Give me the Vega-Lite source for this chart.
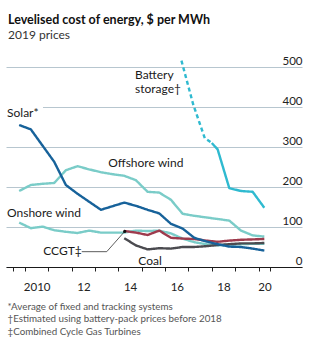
{
  "$schema": "https://vega.github.io/schema/vega-lite/v6.json",
  "width": 296,
  "height": 200,
  "autosize": {"type": "none"},
  "padding": {"left": 6, "right": 21, "top": 67, "bottom": 78},
  "background": "white",
  "title": {
    "text": "Levelised cost of energy, $ per MWh",
    "subtitle": "2019 prices",
    "anchor": "start",
    "frame": "group",
    "font": "Lato",
    "fontSize": 12.5,
    "fontWeight": "bold",
    "color": "#111111",
    "subtitleFont": "Lato",
    "subtitleFontSize": 12,
    "subtitleColor": "#333333",
    "subtitlePadding": 4,
    "offset": 14,
    "dx": 2
  },
  "config": {"view": {"stroke": null}, "font": "Lato"},
  "datasets": {
    "lines": [
      {"series": "Onshore wind", "year": 2009.75, "cost": 111},
      {"series": "Onshore wind", "year": 2010.25, "cost": 97},
      {"series": "Onshore wind", "year": 2010.75, "cost": 101},
      {"series": "Onshore wind", "year": 2011.25, "cost": 92},
      {"series": "Onshore wind", "year": 2011.75, "cost": 88},
      {"series": "Onshore wind", "year": 2012.25, "cost": 85},
      {"series": "Onshore wind", "year": 2012.75, "cost": 91},
      {"series": "Onshore wind", "year": 2013.25, "cost": 86},
      {"series": "Onshore wind", "year": 2013.75, "cost": 86},
      {"series": "Onshore wind", "year": 2014.25, "cost": 86},
      {"series": "Onshore wind", "year": 2014.75, "cost": 91},
      {"series": "Onshore wind", "year": 2015.25, "cost": 90},
      {"series": "Onshore wind", "year": 2015.75, "cost": 91},
      {"series": "Onshore wind", "year": 2016.25, "cost": 84},
      {"series": "Onshore wind", "year": 2016.75, "cost": 71},
      {"series": "Onshore wind", "year": 2017.25, "cost": 62},
      {"series": "Onshore wind", "year": 2017.75, "cost": 57},
      {"series": "Onshore wind", "year": 2018.25, "cost": 54},
      {"series": "Onshore wind", "year": 2018.75, "cost": 56},
      {"series": "Onshore wind", "year": 2019.25, "cost": 57},
      {"series": "Onshore wind", "year": 2019.75, "cost": 58},
      {"series": "Onshore wind", "year": 2020.25, "cost": 58},
      {"series": "Offshore wind", "year": 2009.75, "cost": 190},
      {"series": "Offshore wind", "year": 2010.25, "cost": 205},
      {"series": "Offshore wind", "year": 2010.75, "cost": 208},
      {"series": "Offshore wind", "year": 2011.25, "cost": 210},
      {"series": "Offshore wind", "year": 2011.75, "cost": 242},
      {"series": "Offshore wind", "year": 2012.25, "cost": 252},
      {"series": "Offshore wind", "year": 2012.75, "cost": 244},
      {"series": "Offshore wind", "year": 2013.25, "cost": 237},
      {"series": "Offshore wind", "year": 2013.75, "cost": 232},
      {"series": "Offshore wind", "year": 2014.25, "cost": 228},
      {"series": "Offshore wind", "year": 2014.75, "cost": 217},
      {"series": "Offshore wind", "year": 2015.25, "cost": 188},
      {"series": "Offshore wind", "year": 2015.75, "cost": 186},
      {"series": "Offshore wind", "year": 2016.25, "cost": 168},
      {"series": "Offshore wind", "year": 2016.75, "cost": 133},
      {"series": "Offshore wind", "year": 2017.25, "cost": 128},
      {"series": "Offshore wind", "year": 2017.75, "cost": 124},
      {"series": "Offshore wind", "year": 2018.25, "cost": 120},
      {"series": "Offshore wind", "year": 2018.75, "cost": 116},
      {"series": "Offshore wind", "year": 2019.25, "cost": 91},
      {"series": "Offshore wind", "year": 2019.75, "cost": 79},
      {"series": "Offshore wind", "year": 2020.25, "cost": 76},
      {"series": "Coal", "year": 2014.25, "cost": 72},
      {"series": "Coal", "year": 2014.75, "cost": 54},
      {"series": "Coal", "year": 2015.25, "cost": 44},
      {"series": "Coal", "year": 2015.75, "cost": 47},
      {"series": "Coal", "year": 2016.25, "cost": 46},
      {"series": "Coal", "year": 2016.75, "cost": 50},
      {"series": "Coal", "year": 2017.25, "cost": 50},
      {"series": "Coal", "year": 2017.75, "cost": 52},
      {"series": "Coal", "year": 2018.25, "cost": 55},
      {"series": "Coal", "year": 2018.75, "cost": 57},
      {"series": "Coal", "year": 2019.25, "cost": 59},
      {"series": "Coal", "year": 2019.75, "cost": 59},
      {"series": "Coal", "year": 2020.25, "cost": 60},
      {"series": "CCGT", "year": 2014.25, "cost": 90},
      {"series": "CCGT", "year": 2014.75, "cost": 86},
      {"series": "CCGT", "year": 2015.25, "cost": 80},
      {"series": "CCGT", "year": 2015.75, "cost": 91},
      {"series": "CCGT", "year": 2016.25, "cost": 73},
      {"series": "CCGT", "year": 2016.75, "cost": 71},
      {"series": "CCGT", "year": 2017.25, "cost": 70},
      {"series": "CCGT", "year": 2017.75, "cost": 66},
      {"series": "CCGT", "year": 2018.25, "cost": 63},
      {"series": "CCGT", "year": 2018.75, "cost": 66},
      {"series": "CCGT", "year": 2019.25, "cost": 68},
      {"series": "CCGT", "year": 2019.75, "cost": 69},
      {"series": "CCGT", "year": 2020.25, "cost": 70},
      {"series": "Solar", "year": 2009.75, "cost": 355},
      {"series": "Solar", "year": 2010.25, "cost": 344},
      {"series": "Solar", "year": 2011.25, "cost": 263},
      {"series": "Solar", "year": 2011.75, "cost": 205},
      {"series": "Solar", "year": 2012.25, "cost": 183},
      {"series": "Solar", "year": 2013.25, "cost": 143},
      {"series": "Solar", "year": 2014.25, "cost": 161},
      {"series": "Solar", "year": 2014.75, "cost": 153},
      {"series": "Solar", "year": 2015.25, "cost": 143},
      {"series": "Solar", "year": 2015.75, "cost": 134},
      {"series": "Solar", "year": 2016.25, "cost": 108},
      {"series": "Solar", "year": 2016.75, "cost": 96},
      {"series": "Solar", "year": 2017.25, "cost": 73},
      {"series": "Solar", "year": 2017.75, "cost": 64},
      {"series": "Solar", "year": 2018.25, "cost": 57},
      {"series": "Solar", "year": 2018.75, "cost": 51},
      {"series": "Solar", "year": 2019.25, "cost": 50},
      {"series": "Solar", "year": 2019.75, "cost": 46},
      {"series": "Solar", "year": 2020.25, "cost": 41},
      {"series": "Battery storage (estimated)", "year": 2016.7, "cost": 516},
      {"series": "Battery storage (estimated)", "year": 2017.2, "cost": 407},
      {"series": "Battery storage (estimated)", "year": 2017.7, "cost": 322},
      {"series": "Battery storage (estimated)", "year": 2018.0, "cost": 310},
      {"series": "Battery storage", "year": 2018.0, "cost": 310},
      {"series": "Battery storage", "year": 2018.25, "cost": 294},
      {"series": "Battery storage", "year": 2018.75, "cost": 197},
      {"series": "Battery storage", "year": 2019.25, "cost": 190},
      {"series": "Battery storage", "year": 2019.75, "cost": 188},
      {"series": "Battery storage", "year": 2020.25, "cost": 148}
    ],
    "labels": [
      {"label": "Solar*", "year": 2009.23, "cost": 376},
      {"label": "Battery", "year": 2014.71, "cost": 469},
      {"label": "storage†", "year": 2014.71, "cost": 436},
      {"label": "Offshore wind", "year": 2013.56, "cost": 251},
      {"label": "Onshore wind", "year": 2009.23, "cost": 126},
      {"label": "CCGT‡", "year": 2010.78, "cost": 30},
      {"label": "Coal", "year": 2014.85, "cost": 5}
    ],
    "leader": [
      {"year": 2012.43, "cost": 38.3, "step": 1},
      {"year": 2013.5, "cost": 38.3, "step": 2},
      {"year": 2014.27, "cost": 89, "step": 3}
    ],
    "mask": [
      {"x0": 2009.19, "x1": 2010.77, "y0": 395, "y1": 405}
    ]
  },
  "layer": [
    {
      "data": {"name": "lines"},
      "mark": {"type": "line", "strokeWidth": 2.4, "strokeJoin": "round", "strokeCap": "butt"},
      "encoding": {
        "x": {"field": "year", "type": "quantitative", "scale": {"domain": [2009.186, 2021.863], "nice": false, "zero": false},
          "axis": {
            "values": [2009.5, 2010, 2011, 2012, 2013, 2014, 2015, 2016, 2017, 2018, 2019, 2020, 2020.5],
            "tickCount": 50,
            "labelExpr": "datum.value == 2010 ? '2010' : ((datum.value % 2 == 0 && datum.value > 2010) ? substring(toString(datum.value), 2) : '')",
            "labelOffset": {"condition": {"test": "datum.value >= 2020", "value": 6}, "value": 11.7},
            "labelFlush": false,
            "labelOverlap": false,
            "labelBound": false,
            "labelFont": "Lato",
            "labelFontSize": 11.5,
            "labelColor": "#222222",
            "labelPadding": 10,
            "grid": false,
            "ticks": true,
            "tickSize": 4,
            "tickColor": "#222222",
            "tickWidth": 1,
            "domain": true,
            "domainColor": "#1a1a1a",
            "domainWidth": 1.2,
            "title": ["*Average of fixed and tracking systems", "†Estimated using battery-pack prices before 2018", "‡Combined Cycle Gas Turbines"],
            "titleFont": "Lato",
            "titleFontSize": 9.8,
            "titleFontWeight": "normal",
            "titleColor": "#555555",
            "titleAlign": "left",
            "titleBaseline": "top",
            "titleAngle": 0,
            "titleX": 1,
            "titleY": 34,
            "titleLineHeight": 12.5
          }
        },
        "y": {"field": "cost", "type": "quantitative", "scale": {"domain": [0, 500], "nice": false},
          "axis": {
            "orient": "right",
            "values": [0, 100, 200, 300, 400, 500],
            "tickCount": 50,
            "grid": true,
            "gridColor": "#b7c6cf",
            "gridWidth": 1,
            "domain": false,
            "ticks": false,
            "tickSize": 0,
            "labelAlign": "right",
            "labelBaseline": "alphabetic",
            "labelOffset": -3,
            "labelPadding": 0,
            "labelOverlap": false,
            "labelBound": false,
            "labelFlush": false,
            "labelFont": "Lato",
            "labelFontSize": 11.5,
            "labelColor": "#222222",
            "title": null
          }
        },
        "color": {"field": "series", "type": "nominal", "legend": null,
          "scale": {"domain": ["Onshore wind", "Offshore wind", "Coal", "CCGT", "Solar", "Battery storage (estimated)", "Battery storage"],
                    "range": ["#7accc8", "#7accc8", "#4b4b50", "#9e3b4d", "#17629a", "#2fbad0", "#2fbad0"]}},
        "strokeDash": {"field": "series", "type": "nominal", "legend": null,
          "scale": {"domain": ["Onshore wind", "Offshore wind", "Coal", "CCGT", "Solar", "Battery storage (estimated)", "Battery storage"],
                    "range": [[1, 0], [1, 0], [1, 0], [1, 0], [1, 0], [4, 3], [1, 0]]}},
        "order": {"field": "year", "type": "quantitative"}
      }
    },
    {
      "data": {"name": "mask"},
      "mark": {"type": "rect", "color": "white"},
      "encoding": {
        "x": {"field": "x0", "type": "quantitative"},
        "x2": {"field": "x1"},
        "y": {"field": "y0", "type": "quantitative"},
        "y2": {"field": "y1"}
      }
    },
    {
      "data": {"name": "leader"},
      "mark": {"type": "line", "color": "#333333", "strokeWidth": 0.8},
      "encoding": {
        "x": {"field": "year", "type": "quantitative"},
        "y": {"field": "cost", "type": "quantitative"},
        "order": {"field": "step", "type": "quantitative"}
      }
    },
    {
      "data": {"name": "leader"},
      "transform": [{"filter": "datum.step == 3"}],
      "mark": {"type": "circle", "color": "#111111", "size": 10, "opacity": 1},
      "encoding": {
        "x": {"field": "year", "type": "quantitative"},
        "y": {"field": "cost", "type": "quantitative"}
      }
    },
    {
      "data": {"name": "labels"},
      "mark": {"type": "text", "align": "left", "baseline": "alphabetic", "font": "Lato", "fontSize": 12, "color": "#1a1a1a"},
      "encoding": {
        "x": {"field": "year", "type": "quantitative"},
        "y": {"field": "cost", "type": "quantitative"},
        "text": {"field": "label"}
      }
    }
  ]
}
